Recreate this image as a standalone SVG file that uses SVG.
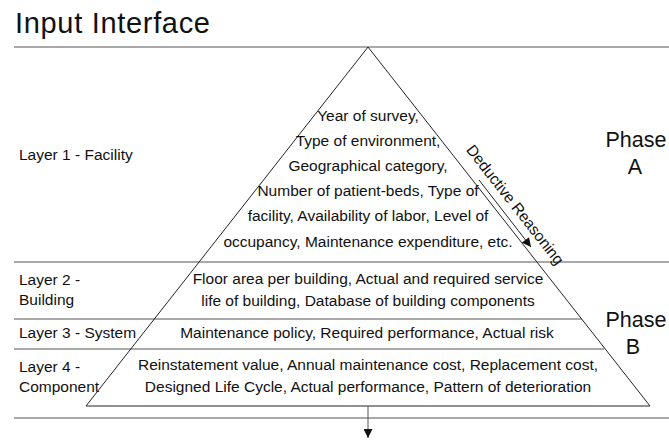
<svg xmlns="http://www.w3.org/2000/svg" width="669" height="440" viewBox="0 0 669 440">
  <style>
    text { font-family: "Liberation Sans", Arial, sans-serif; fill: #111; }
    .body { font-size: 15.5px; }
    .mid { text-anchor: middle; }
    .phase { font-size: 21.5px; text-anchor: middle; }
    .title { font-size: 29px; }
    .rule { stroke: #555; stroke-width: 1; fill: none; }
    .edge { stroke: #222; stroke-width: 1; fill: none; }
  </style>
  <defs>
    <marker id="head" viewBox="0 0 10 10" refX="10" refY="5" markerWidth="10" markerHeight="9" markerUnits="userSpaceOnUse" orient="auto">
      <path d="M0,0 L10,5 L0,10 Z" fill="#111"/>
    </marker>
  </defs>

  <rect width="669" height="440" fill="#fff"/>

  <text id="title" class="title" x="15" y="33" textLength="195">Input Interface</text>

  <!-- horizontal rules separating the layers -->
  <g id="rules">
    <line class="rule" x1="14" y1="47" x2="669" y2="47"/>
    <line class="rule" x1="14" y1="262" x2="669" y2="262"/>
    <line class="rule" x1="14" y1="319" x2="582" y2="319"/>
    <line class="rule" x1="14" y1="349" x2="604" y2="349"/>
    <line class="rule" x1="14" y1="418" x2="669" y2="418"/>
  </g>

  <!-- pyramid -->
  <g id="pyramid">
    <polygon class="edge" points="368,47 650,406 86,406"/>
  </g>

  <g id="layer1">
    <text class="body" x="19" y="160">Layer 1 - Facility</text>
    <text class="body mid" x="368" y="121">Year of survey,</text>
    <text class="body mid" x="368" y="146">Type of environment,</text>
    <text class="body mid" x="368" y="171">Geographical category,</text>
    <text class="body mid" x="368" y="196">Number of patient-beds, Type of</text>
    <text class="body mid" x="368" y="221">facility, Availability of labor, Level of</text>
    <text class="body mid" x="368" y="247">occupancy, Maintenance expenditure, etc.</text>
  </g>

  <g id="layer2">
    <text class="body" x="19" y="285">Layer 2 -</text>
    <text class="body" x="19" y="305">Building</text>
    <text class="body mid" x="368" y="284">Floor area per building, Actual and required service</text>
    <text class="body mid" x="368" y="306">life of building, Database of building components</text>
  </g>

  <g id="layer3">
    <text class="body" x="19" y="338">Layer 3 - System</text>
    <text class="body mid" x="367" y="338">Maintenance policy, Required performance, Actual risk</text>
  </g>

  <g id="layer4">
    <text class="body" x="19" y="372">Layer 4 -</text>
    <text class="body" x="19" y="392">Component</text>
    <text class="body mid" x="368" y="370">Reinstatement value, Annual maintenance cost, Replacement cost,</text>
    <text class="body mid" x="368" y="392">Designed Life Cycle, Actual performance, Pattern of deterioration</text>
  </g>

  <g id="phaseA">
    <text class="phase" x="636" y="147">Phase</text>
    <text class="phase" x="635" y="174">A</text>
  </g>

  <g id="phaseB">
    <text class="phase" x="636" y="327">Phase</text>
    <text class="phase" x="633" y="354">B</text>
  </g>

  <g id="deductive">
    <text class="body mid" transform="translate(511,208) rotate(51.85)">Deductive Reasoning</text>
  </g>

  <g id="connectors">
    <line x1="479" y1="180" x2="531" y2="247" stroke="#222" stroke-width="1" marker-end="url(#head)"/>
    <line x1="368" y1="406" x2="368" y2="438" stroke="#555" stroke-width="1" marker-end="url(#head)"/>
  </g>
</svg>
